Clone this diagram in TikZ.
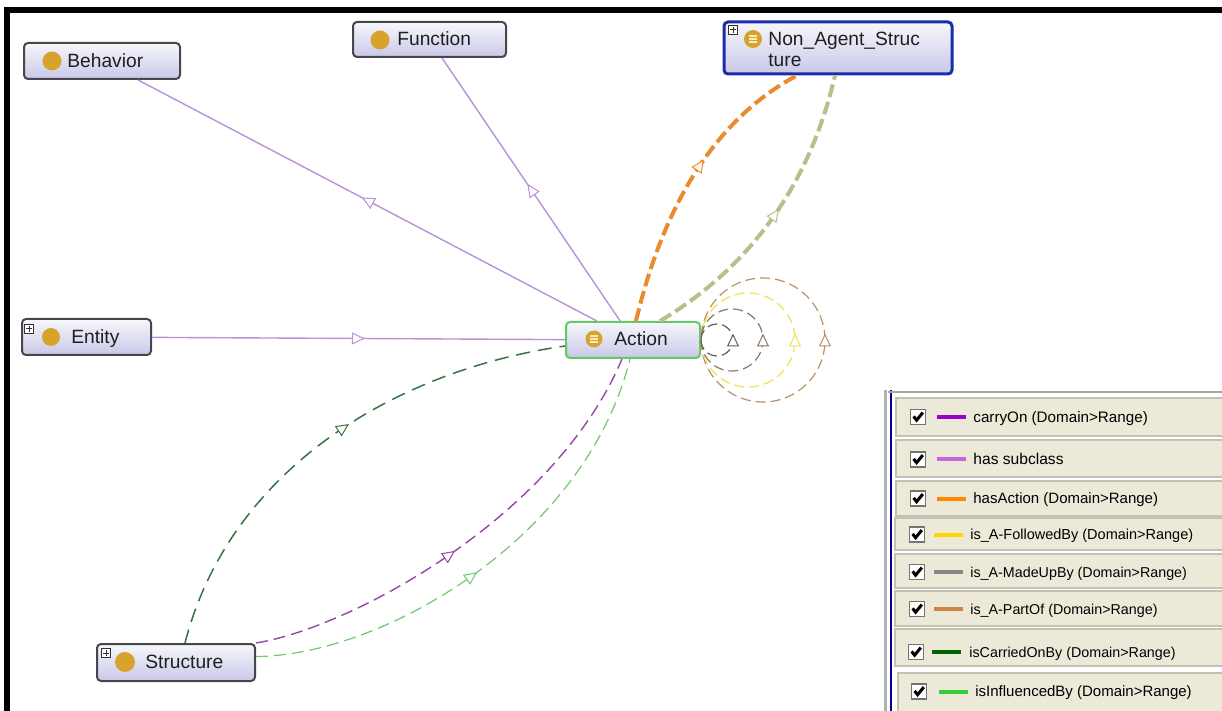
\documentclass[tikz,border=0pt]{standalone}
\usepackage{fontspec}
\setmainfont{Liberation Sans}
\usetikzlibrary{arrows.meta,calc,decorations.markings}

% class boxes
\definecolor{boxline}{RGB}{70,70,75}
\definecolor{boxtop}{RGB}{247,247,252}
\definecolor{boxbot}{RGB}{200,200,232}
\definecolor{actline}{RGB}{100,200,100}
\definecolor{napline}{RGB}{25,45,170}
\definecolor{gold}{RGB}{214,164,44}
\definecolor{goldlight}{RGB}{250,234,190}
% connectors
\definecolor{subcl}{RGB}{185,145,215}
\definecolor{hasact}{RGB}{236,138,48}
\definecolor{olivel}{RGB}{186,190,136}
\definecolor{carryon}{RGB}{150,70,170}
\definecolor{carried}{RGB}{55,115,65}
\definecolor{influ}{RGB}{110,200,110}
\definecolor{loopa}{RGB}{95,95,95}
\definecolor{loopb}{RGB}{135,120,105}
\definecolor{loopc}{RGB}{240,225,80}
\definecolor{loopd}{RGB}{185,145,105}
% legend
\definecolor{rowbg}{RGB}{236,233,216}
\definecolor{rowedge}{RGB}{196,193,180}
\definecolor{lgCarry}{RGB}{153,0,204}
\definecolor{lgSub}{RGB}{200,100,220}
\definecolor{lgHasAct}{RGB}{255,136,0}
\definecolor{lgFollow}{RGB}{255,215,0}
\definecolor{lgMade}{RGB}{136,136,136}
\definecolor{lgPart}{RGB}{205,133,63}
\definecolor{lgCarried}{RGB}{0,100,0}
\definecolor{lgInfl}{RGB}{50,205,50}

\begin{document}
\begin{tikzpicture}[x=0.5pt,y=-0.5pt,
  cls/.style={draw=boxline, line width=1pt, rounded corners=2pt,
    top color=boxtop, bottom color=boxbot, inner sep=0pt},
  lbl/.style={inner sep=0pt, anchor=base west, text=black!88,
    font=\fontsize{9.6}{10.5}\selectfont},
  dot/.style={circle, fill=gold, minimum size=9.5pt, inner sep=0pt},
  listdot/.style={circle, fill=gold, minimum size=8.5pt, inner sep=0pt,
    path picture={
      \foreach \dy in {-1.5pt,0pt,1.5pt}
        \draw[goldlight, line width=0.55pt]
          ([shift={(-2pt,\dy)}]path picture bounding box.center) --
          ([shift={(2pt,\dy)}]path picture bounding box.center);}},
  plus/.style={draw=black!80, fill=white, line width=0.4pt, minimum size=4.5pt,
    inner sep=0pt,
    path picture={
      \draw[line width=0.5pt]
        ([xshift=0.9pt]path picture bounding box.west) --
        ([xshift=-0.9pt]path picture bounding box.east)
        ([yshift=-0.9pt]path picture bounding box.north) --
        ([yshift=0.9pt]path picture bounding box.south);}},
  % open triangle centred on the given position of the connector
  mid arrow/.style={postaction={decorate, decoration={markings,
    mark=at position #1 with {\pgftransformxshift{3.25pt}%
      \arrow{Triangle[fill=white, length=6.5pt, width=6pt, line width=0.5pt]}}}}},
  mid arrow/.default=0.5,
  sub/.style={draw=subcl, line width=0.7pt, mid arrow},
  thickdash/.style={line width=2pt, dash pattern=on 6.5pt off 2.5pt},
  thindash/.style={line width=0.7pt, dash pattern=on 6pt off 3pt},
  loopdash/.style={line width=0.6pt, dash pattern=on 5pt off 2.5pt, mid arrow},
  chk/.style={draw=black!55, line width=0.9pt, fill=white, minimum size=7.5pt,
    inner sep=0pt,
    path picture={
      \draw[black, line width=1.5pt, line join=miter]
        ([shift={(-2.2pt,0.3pt)}]path picture bounding box.center) --
        ([shift={(-0.7pt,-1.6pt)}]path picture bounding box.center) --
        ([shift={(2.4pt,2.2pt)}]path picture bounding box.center);}}
]
\useasboundingbox (0,0) rectangle (1222,711);

% frame of the drawing area
\fill[black] (4,7) rectangle (1222,13);
\fill[black] (4,7) rectangle (10,711);

% ---------------- class boxes ----------------
\node[cls, minimum width=78pt, minimum height=18pt] (Behavior) at (102,61) {};
\node[dot] (Behavior-i) at (52,61) {};
\node[lbl] (Behavior-t) at (67,67.5) {Behavior};

\node[cls, minimum width=76.5pt, minimum height=17.5pt] (Function) at (429.5,39.5) {};
\node[dot] (Function-i) at (380,40) {};
\node[lbl] (Function-t) at (397,45.5) {Function};

\node[cls, draw=napline, line width=1.5pt, minimum width=114pt, minimum height=26pt]
  (NonAgent) at (838,48) {};
\node[plus] (NonAgent-p) at (733,30) {};
\node[listdot, minimum size=9pt] (NonAgent-i) at (753,39) {};
\node[lbl, anchor=north west, align=left] (NonAgent-t) at (768,32) {Non\_Agent\_Struc\\ture};

\node[cls, minimum width=64.5pt, minimum height=18pt] (Entity) at (86.5,337) {};
\node[plus] (Entity-p) at (29,329) {};
\node[dot, minimum size=9pt] (Entity-i) at (51,337) {};
\node[lbl] (Entity-t) at (71,343.5) {Entity};

\node[cls, draw=actline, minimum width=67pt, minimum height=18pt] (Action) at (633,340) {};
\node[listdot] (Action-i) at (594,339) {};
\node[lbl] (Action-t) at (614,345.5) {Action};

\node[cls, minimum width=79pt, minimum height=18.5pt] (Structure) at (176,662.5) {};
\node[plus] (Structure-p) at (106,653) {};
\node[dot, minimum size=10pt] (Structure-i) at (125,662) {};
\node[lbl] (Structure-t) at (145,668.5) {Structure};

% ---------------- has subclass ----------------
\draw[sub] (Action) -- (Behavior);
\draw[sub] (Action) -- (Function);
\draw[sub] (Entity) -- (Action);

% ---------------- Action <-> Non_Agent_Structure ----------------
\draw[draw=hasact, thickdash, mid arrow=0.56]
  ($(Action.north)+(3,0)$) .. controls (665,199) and (719,117) .. ($(NonAgent.south)+(-41,0)$);
\draw[draw=olivel, thickdash, mid arrow=0.51]
  ($(Action.north)+(27,0)$) .. controls (752,266) and (810,183) .. ($(NonAgent.south)+(-3,0)$);

% ---------------- Structure -> Action ----------------
\draw[draw=carried, line width=0.75pt, dash pattern=on 7pt off 4pt, mid arrow=0.535]
  ($(Structure.north)+(9,0)$) .. controls (230,468) and (397,370) .. ($(Action.west)+(0,6)$);
\draw[draw=carryon, thindash, mid arrow=0.448]
  (Structure.north east) .. controls (350,628) and (555,518) .. ($(Action.south)+(-11,0)$);
\draw[draw=influ, thindash, line width=0.6pt, mid arrow=0.46]
  ($(Structure.east)+(0,-6)$) .. controls (380,656) and (585,540) .. ($(Action.south)+(-3,0)$);

% ---------------- self relations of Action ----------------
\draw[draw=loopd, loopdash] (Action.east) arc[start angle=180, end angle=-180, radius=62];
\draw[draw=loopc, loopdash] (Action.east) arc[start angle=180, end angle=-180, radius=47];
\draw[draw=loopb, loopdash] (Action.east) arc[start angle=180, end angle=-180, radius=31];
\draw[draw=loopa, loopdash] (Action.east) arc[start angle=180, end angle=-180, radius=16];

% ---------------- legend ----------------
\fill[white] (878,386) rectangle (1222,711);
\draw[black!30, line width=1.5pt] (885,390) -- (885,711);
\draw[blue!55!black, line width=1pt] (891,390) -- (891,711);
\draw[black!35, line width=1pt] (888,392) -- (1222,392);

\foreach \i/\ya/\yb/\yc/\bx/\cx/\lx/\tx/\col/\fs/\txt in {
  1/398/436/417/896/918/937/973/lgCarry/7.6/carryOn (Domain>Range),
  2/440/477/459.5/896/918/937/973/lgSub/7.8/has subclass,
  3/481/516/498.5/896/918/937/973/lgHasAct/7.5/hasAction (Domain>Range),
  4/518/550/534.5/895/917/934/970/lgFollow/7.25/is\_A-FollowedBy (Domain>Range),
  5/554/588/572/895/917/934/970/lgMade/7.15/is\_A-MadeUpBy (Domain>Range),
  6/591/626/609/895/917/934/970/lgPart/7.15/is\_A-PartOf (Domain>Range),
  7/629/666/652/895/916/932/969/lgCarried/7.15/isCarriedOnBy (Domain>Range),
  8/673/714/691.5/898/919/939/975/lgInfl/7.5/isInfluencedBy (Domain>Range)}
{
  \draw[rowedge, fill=rowbg, line width=0.8pt] (\bx,\ya) rectangle (1225,\yb);
  \node[chk] (chk\i) at (\cx,\yc) {};
  \draw[draw=\col, line width=2pt] (\lx,\yc) -- ++(29,0);
  \node[inner sep=0pt, anchor=base west, font=\fontsize{\fs}{\fs}\selectfont]
    (lt\i) at (\tx,{\yc+5.3}) {\txt};
}
\end{tikzpicture}
\end{document}
